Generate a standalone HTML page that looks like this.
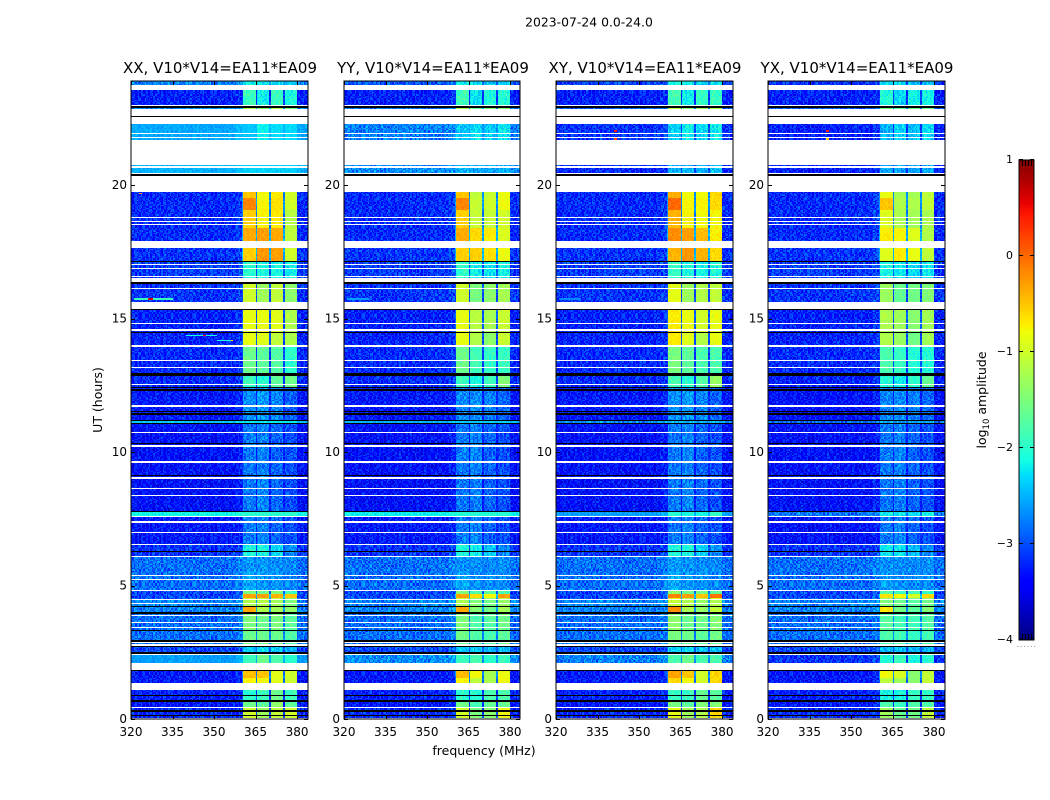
<!DOCTYPE html>
<html>
<head>
<meta charset="utf-8">
<title>2023-07-24 0.0-24.0</title>
<style>
  html, body { margin: 0; padding: 0; background: #fff; }
  #figure { position: relative; width: 1050px; height: 800px; overflow: hidden; background: #fff; font-family: "DejaVu Sans", "Liberation Sans", sans-serif; }
  canvas { position: absolute; display: block; image-rendering: pixelated; }
  svg { position: absolute; left: 0; top: 0; }
  text { fill: #000; font-family: "DejaVu Sans", "Liberation Sans", sans-serif; }
</style>
</head>
<body>
<div id="figure">
  <canvas id="heat-xx" width="177" height="638" style="left:131px;top:81px"></canvas>
  <canvas id="heat-yy" width="176" height="638" style="left:344px;top:81px"></canvas>
  <canvas id="heat-xy" width="177" height="638" style="left:556px;top:81px"></canvas>
  <canvas id="heat-yx" width="177" height="638" style="left:768px;top:81px"></canvas>
  <canvas id="colorbar-canvas" width="15" height="480" style="left:1019px;top:160px"></canvas>
  <svg id="overlay" width="1050" height="800" viewBox="0 0 1050 800">
    <text x="589" y="26.5" font-size="12.4" text-anchor="middle">2023-07-24 0.0-24.0</text>
    <text x="220" y="73" font-size="15" text-anchor="middle">XX, V10*V14=EA11*EA09</text>
    <text x="433" y="73" font-size="15" text-anchor="middle">YY, V10*V14=EA11*EA09</text>
    <text x="645" y="73" font-size="15" text-anchor="middle">XY, V10*V14=EA11*EA09</text>
    <text x="857" y="73" font-size="15" text-anchor="middle">YX, V10*V14=EA11*EA09</text>
    <text x="484" y="755" font-size="12.5" text-anchor="middle">frequency (MHz)</text>
    <text transform="translate(102,400) rotate(-90)" font-size="12.5" text-anchor="middle">UT (hours)</text>
    <text transform="translate(986,400) rotate(-90)" font-size="12.5" text-anchor="middle">log<tspan font-size="8.5" dy="3">10</tspan><tspan dy="-3"> amplitude</tspan></text>
  </svg>
</div>
<script>
// ---- axes ----
const freqTicks = [320, 335, 350, 365, 380];
const freqTickLabels = ["320", "335", "350", "365", "380"];
const utTicks = [0, 5, 10, 15, 20];
const utTickLabels = ["0", "5", "10", "15", "20"];
const colorTicks = [1, 0, -1, -2, -3, -4];
const colorTickLabels = ["1", "0", "\u22121", "\u22122", "\u22123", "\u22124"];

// ---- heatmap values (log10 amplitude), read by eye per block of UT hours ----
const segmentStart = [0, 0.41, 0.71, 1.31, 1.57, 1.8, 2.1, 2.43, 2.77, 3.33, 3.93, 4.0, 4.23, 4.46, 4.57, 4.72, 4.83, 5.5, 6.07, 6.55, 7.6, 7.75, 11.05, 11.2, 12.4, 12.88, 13.97, 14.46, 15.58, 16.33, 17.12, 17.9, 18.39, 19.06, 19.51, 20.34, 21.61, 22.32, 22.62, 22.81, 23.0, 23.71];
const backgroundXX = [-3.2, -3.3, -3.25, -3.3, -3.3, -2.35, -2.6, -3.05, -2.85, -2.85, -2.5, -2.75, -2.75, -2.95, -3.05, -3.05, -2.85, -2.85, -3.15, -3.3, -2.15, -3.35, -2.4, -3.3, -3.2, -3.2, -3.25, -3.25, -3.15, -3.1, -3.15, -3.2, -3.2, -3.2, -3.2, -2.5, -2.55, -2.6, -2.7, -2.7, -3.25, -2.75];
const backgroundYY = [-3.2, -3.3, -3.25, -3.3, -3.3, -2.4, -2.7, -3.05, -2.85, -2.85, -2.5, -2.75, -2.75, -2.95, -3.05, -3.05, -2.85, -2.85, -3.15, -3.3, -2.2, -3.35, -2.5, -3.3, -3.2, -3.2, -3.25, -3.25, -3.15, -3.1, -3.15, -3.2, -3.2, -3.2, -3.2, -2.7, -2.75, -2.8, -2.8, -2.8, -3.25, -2.95];
const backgroundXY = [-3.2, -3.3, -3.25, -3.3, -3.3, -2.5, -2.75, -3.05, -2.85, -2.85, -2.5, -2.75, -2.75, -2.95, -3.05, -3.05, -2.85, -2.85, -3.15, -3.3, -2.6, -3.35, -2.7, -3.3, -3.2, -3.2, -3.25, -3.25, -3.15, -3.1, -3.15, -3.2, -3.2, -3.2, -3.2, -3.2, -3.15, -3.05, -3.05, -2.95, -3.25, -3.05];
const backgroundYX = [-3.2, -3.3, -3.25, -3.3, -3.3, -3.15, -3.15, -3.05, -2.85, -2.85, -2.5, -2.75, -2.75, -2.95, -3.05, -3.05, -2.85, -2.85, -3.15, -3.35, -2.8, -3.35, -2.85, -3.35, -3.25, -3.2, -3.25, -3.25, -3.15, -3.1, -3.15, -3.2, -3.2, -3.2, -3.2, -3.25, -3.25, -3.15, -3.05, -2.95, -3.25, -3.15];
const subbandLevels = [
  [-1.0, -1.3, -1.1, -1.0], [-1.6, -1.7, -1.4, -1.7], [-2.0, -1.9, -1.6, -1.9], [-0.75, -0.8, -0.9, -1.0],
  [-0.45, -0.5, -0.9, -1.0], [-2.3, -2.3, -2.3, -2.3], [-1.9, -1.6, -1.8, -2.0], [-2.4, -2.3, -2.4, -2.5],
  [-1.6, -1.6, -1.6, -1.8], [-1.5, -1.6, -1.5, -1.7], [0.3, -0.2, -0.1, -0.2], [-0.35, -1.2, -1.3, -1.4],
  [-1.2, -1.2, -1.3, -1.5], [-1.0, -1.1, -1.1, -1.3], [-0.3, -0.3, -0.4, -0.5], [-1.5, -1.6, -1.5, -1.9],
  [-2.55, -2.65, -2.65, -2.75], [-2.65, -2.65, -2.7, -2.8], [-2.1, -2.1, -2.3, -2.7], [-2.8, -2.75, -2.9, -3.0],
  [-2.1, -2.1, -2.1, -2.1], [-2.8, -2.75, -2.9, -3.0], [-2.5, -2.5, -2.5, -2.5], [-2.7, -2.65, -2.75, -2.9],
  [-1.9, -2.0, -1.7, -1.6], [-1.6, -1.7, -1.75, -2.0], [-0.85, -0.9, -1.1, -1.2], [-0.85, -0.85, -0.9, -1.2],
  [-1.0, -1.3, -1.1, -1.4], [-2.0, -2.1, -2.1, -2.2], [-0.55, -0.25, -0.3, -1.0], [-0.35, -0.3, -0.35, -1.1],
  [-0.55, -0.75, -0.7, -1.15], [-0.15, -0.75, -0.65, -1.0], [-0.5, -0.8, -0.7, -1.0], [-2.5, -2.5, -2.5, -2.5],
  [-2.4, -2.2, -2.3, -2.3], [-2.6, -2.6, -2.6, -2.6], [-2.6, -2.6, -2.6, -2.6], [-1.2, -1.4, -1.2, -1.5],
  [-1.9, -2.2, -1.9, -2.1], [-2.2, -2.2, -2.3, -2.4]
];
const subbandStartMHz = [360.5, 365.5, 370.5, 375.5];
const subbandEndMHz = [365, 370, 375, 380];
const polOffsetXX = [0, 0, 0, 0];
const polOffsetYY = [0, -0.3, -0.35, 0.2];
const polOffsetXY = [0.15, 0, -0.1, 0.45];
const polOffsetYX = [-0.35, -0.45, -0.55, -0.1];

// ---- rows with no data (white) and rows at the bottom of the scale (black), UT hours ----
const blankSpans = [[1.12, 1.31], [1.87, 2.1], [15.37, 15.58], [16.4, 16.48], [16.56, 16.6], [17.68, 17.9], [19.78, 20.34], [20.79, 21.61], [22.32, 22.55], [22.62, 22.81], [22.96, 23.0], [23.56, 23.71]];
const blankRows = [0.04, 0.41, 2.43, 2.77, 2.85, 3.41, 3.6, 3.86, 4.31, 4.49, 4.81, 5.22, 5.37, 6.07, 6.54, 6.95, 7.36, 7.6, 8.37, 8.61, 9.01, 9.63, 10.24, 10.73, 11.74, 12.53, 13.18, 13.41, 13.99, 14.57, 14.83, 16.1, 16.89, 17.0, 17.04, 18.52, 18.65, 18.76, 20.43, 20.66, 21.69, 21.78, 21.91];
const floorRows = [0.11, 0.3, 0.34, 0.67, 0.88, 1.8, 2.47, 2.7, 2.92, 3.33, 3.97, 4.23, 6.29, 7.75, 9.14, 10.34, 11.05, 11.2, 11.45, 11.5, 12.35, 12.4, 12.88, 12.93, 13.97, 14.46, 15.32, 16.33, 17.15, 20.37, 22.3, 22.58, 22.91];

// ---- narrow interference tracks: UT hour, start MHz, end MHz, level ----
const interferenceXX = [[15.73, 321, 335, -1.9], [15.73, 326, 328, 0.6], [14.38, 340, 351, -2.1], [14.38, 346, 347, 0.5], [14.16, 351, 357, -2.1], [14.16, 356, 357, -0.6], [19.7, 323, 324, -0.3]];
const interferenceYY = [[15.73, 321, 329, -2.6], [20.75, 320, 360, -2.4]];
const interferenceXY = [[15.73, 321, 329, -2.7], [22.0, 341, 342, 0.4], [21.72, 341, 342, 0.2], [20.75, 342, 343, -1.5]];
const interferenceYX = [[22.0, 341, 342, 0.4], [21.72, 341, 342, -0.5], [20.75, 345, 362, -2.2]];

// Fixed speckle tile for the unreadable pixel-level grain, not measured cell by cell.
const grainTile = [0.31, -0.12, 0.05, -0.27, 0.18, -0.04, 0.24, -0.33, 0.09, -0.17, 0.36, -0.08, 0.14, -0.24, 0.02, 0.27, -0.2, -0.01, 0.11, -0.36, 0.21, 0.07, -0.15, 0.29, -0.29, 0.03, 0.16, -0.1, -0.22, 0.34, -0.06, 0.12, -0.31, 0.2, 0.01, -0.14, 0.26, -0.03, -0.26, 0.08, 0.33, -0.18, 0.15, -0.09, 0.04, -0.34, 0.23, -0.05, 0.1, 0.28, -0.21, -0.02, 0.17, -0.3, 0.06, 0.22, -0.13, -0.07, 0.3, -0.25, 0.13, -0.16, 0.19, -0.11, 0.25, -0.28, 0.0];

const panelNames = ["xx", "yy", "xy", "yx"];
const panelBackgrounds = [backgroundXX, backgroundYY, backgroundXY, backgroundYX];
const panelOffsets = [polOffsetXX, polOffsetYY, polOffsetXY, polOffsetYX];
const panelInterference = [interferenceXX, interferenceYY, interferenceXY, interferenceYX];

const panelLeft = [131, 344, 556, 768];
const panelWidth = [177, 176, 177, 177];
const plotTop = 81, plotBottom = 719, pxPerHour = 26.7, pxPerMHz = 2.767;
const channelMHz = 0.5, rowHours = 0.05, nChannels = 128, nRows = 478;
const colorMin = -4, colorMax = 1;

const xAxis = (mhz) => (mhz - 320) * pxPerMHz;
const yAxis = (ut) => plotBottom - ut * pxPerHour;

function ramp(pts, t) {
  for (let i = 1; i < pts.length; i++) {
    if (t <= pts[i][0]) {
      const a = pts[i - 1], b = pts[i];
      return a[1] + (b[1] - a[1]) * (t - a[0]) / (b[0] - a[0]);
    }
  }
  return pts[pts.length - 1][1];
}
const jetR = [[0, 0], [0.35, 0], [0.66, 1], [0.89, 1], [1, 0.5]];
const jetG = [[0, 0], [0.125, 0], [0.375, 1], [0.64, 1], [0.91, 0], [1, 0]];
const jetB = [[0, 0.5], [0.11, 1], [0.34, 1], [0.65, 0], [1, 0]];
const lut = [];
for (let i = 0; i < 256; i++) {
  const t = i / 255;
  lut.push("rgb(" + Math.round(ramp(jetR, t) * 255) + "," + Math.round(ramp(jetG, t) * 255) + "," + Math.round(ramp(jetB, t) * 255) + ")");
}
function colorOf(v) {
  const t = Math.max(0, Math.min(1, (v - colorMin) / (colorMax - colorMin)));
  return lut[Math.round(t * 255)];
}
function segmentOf(ut) {
  let s = 0;
  for (let i = 0; i < segmentStart.length; i++) {
    if (ut >= segmentStart[i]) s = i;
  }
  return s;
}
const rowOf = (ut) => Math.floor(ut / rowHours);

function drawPanel(p) {
  const ctx = document.getElementById("heat-" + panelNames[p]).getContext("2d");
  const bgs = panelBackgrounds[p];
  const offs = panelOffsets[p];
  const blank = new Set(blankRows.map(rowOf));
  blankSpans.forEach((sp) => {
    for (let r = rowOf(sp[0]); r < Math.ceil(sp[1] / rowHours); r++) blank.add(r);
  });
  const floor = new Set(floorRows.map(rowOf));
  for (let r = 0; r < nRows; r++) {
    if (blank.has(r)) continue;
    const ut = r * rowHours;
    const y0 = Math.round(yAxis(ut + rowHours)) - plotTop;
    const y1 = Math.round(yAxis(ut)) - plotTop;
    if (floor.has(r)) {
      ctx.fillStyle = "#000";
      ctx.fillRect(0, y0, panelWidth[p], y1 - y0);
      continue;
    }
    const s = segmentOf(ut + rowHours / 2);
    const bg = bgs[s];
    const grainScale = bg > -2.65 ? 0.4 : 1;
    const tracks = panelInterference[p].filter((t) => rowOf(t[0]) === r);
    for (let c = 0; c < nChannels; c++) {
      const f = 320 + c * channelMHz;
      const fc = f + channelMHz / 2;
      const grain = grainTile[(c * 7 + r * r * 11 + p * 23) % grainTile.length] * grainScale;
      let band = -1;
      for (let b = 0; b < 4; b++) {
        if (fc >= subbandStartMHz[b] && fc < subbandEndMHz[b]) band = b;
      }
      let v;
      if (band >= 0) {
        const raw = subbandLevels[s][band];
        const strength = Math.max(0, Math.min(1, (raw + 2.8) / 2));
        const level = raw + offs[band] * strength;
        v = Math.max(level, bg + 0.15) + grain * (0.85 - 0.6 * strength);
      } else if (fc > 360 && fc < 380) {
        const mean = subbandLevels[s].reduce((a, b) => a + b, 0) / 4;
        v = Math.max(bg + 0.1, mean - 2.0) + grain * 0.5;
      } else {
        const glow = fc > 358 && fc < 360.5 ? 0.1 : 0;
        v = bg + glow + grain;
      }
      tracks.forEach((t) => {
        if (fc >= t[1] && fc < t[2]) v = Math.max(v, t[3]);
      });
      const x0 = Math.round(xAxis(f));
      const x1 = Math.round(xAxis(f + channelMHz));
      ctx.fillStyle = colorOf(v);
      ctx.fillRect(x0, y0, x1 - x0, y1 - y0);
    }
  }
}
panelNames.forEach((_, p) => drawPanel(p));

// ---- colorbar ----
const barCtx = document.getElementById("colorbar-canvas").getContext("2d");
for (let i = 0; i < 480; i++) {
  barCtx.fillStyle = colorOf(colorMax - (i + 0.5) / 480 * (colorMax - colorMin));
  barCtx.fillRect(0, i, 15, 1);
}

// ---- overlay: frames, ticks, labels ----
const NS = "http://www.w3.org/2000/svg";
const overlay = document.getElementById("overlay");
function svgEl(tag, attrs) {
  const el = document.createElementNS(NS, tag);
  Object.keys(attrs).forEach((k) => el.setAttribute(k, attrs[k]));
  overlay.appendChild(el);
  return el;
}
panelNames.forEach((name, p) => {
  const L = panelLeft[p], W = panelWidth[p];
  const frame = svgEl("rect", { x: L, y: plotTop, width: W, height: plotBottom - plotTop, fill: "none", stroke: "#000", "stroke-width": 1 });
  
  
  freqTicks.forEach((f, i) => {
    const x = Math.round(L + xAxis(f)) + 0.5;
    const tickB = svgEl("line", { x1: x, x2: x, y1: plotBottom, y2: plotBottom - 4, stroke: "#000", "stroke-width": 1 });
    
    
    const tickT = svgEl("line", { x1: x, x2: x, y1: plotTop, y2: plotTop + 4, stroke: "#000", "stroke-width": 1 });
    
    
    const label = svgEl("text", { x: L + xAxis(f), y: 736, "font-size": 12, "text-anchor": "middle" });
    label.textContent = freqTickLabels[i];
    
    
  });
  utTicks.forEach((u, i) => {
    const y = Math.round(yAxis(u)) + 0.5;
    const tickL = svgEl("line", { x1: L, x2: L + 4, y1: y, y2: y, stroke: "#000", "stroke-width": 1 });
    
    
    const tickR = svgEl("line", { x1: L + W, x2: L + W - 4, y1: y, y2: y, stroke: "#000", "stroke-width": 1 });
    
    
    const label = svgEl("text", { x: L - 4, y: yAxis(u) + 4, "font-size": 12, "text-anchor": "end" });
    label.textContent = utTickLabels[i];
    
    
  });
});

const barLeft = 1019, barRight = 1034, barTop = 160, barBottom = 640;
const barAxis = (v) => barTop + (colorMax - v) / (colorMax - colorMin) * (barBottom - barTop);
const barFrame = svgEl("rect", { x: barLeft, y: barTop, width: barRight - barLeft, height: barBottom - barTop, fill: "none", stroke: "#000", "stroke-width": 1 });


colorTicks.forEach((v, i) => {
  const y = Math.round(barAxis(v)) - 0.5;
  const tickL = svgEl("line", { x1: barLeft, x2: barLeft + 4, y1: y, y2: y, stroke: "#000", "stroke-width": 1 });
  
  
  const tickR = svgEl("line", { x1: barRight, x2: barRight - 4, y1: y, y2: y, stroke: "#000", "stroke-width": 1 });
  
  
  const label = svgEl("text", { x: 1013, y: barAxis(v) + 3, "font-size": 11, "text-anchor": "end" });
  label.textContent = colorTickLabels[i];
  
  
});
const barMinorTicks = [0.2, 0.4, 0.6, 0.8];
barMinorTicks.forEach((t) => {
  const x = Math.round(barLeft + t * (barRight - barLeft)) + 0.5;
  const top = svgEl("line", { x1: x, x2: x, y1: barTop, y2: barTop + 6, stroke: "#000", "stroke-width": 1 });
  
  
  const bottom = svgEl("line", { x1: x, x2: x, y1: barBottom, y2: barBottom - 6, stroke: "#000", "stroke-width": 1 });
  
  
});
const barDots = [0, 1, 2, 3, 4, 5];
barDots.forEach((d) => {
  const dot = svgEl("rect", { x: 1017.5 + d * 3.3, y: 646, width: 1, height: 1, fill: "#999" });
  
  
});
</script>
</body>
</html>
